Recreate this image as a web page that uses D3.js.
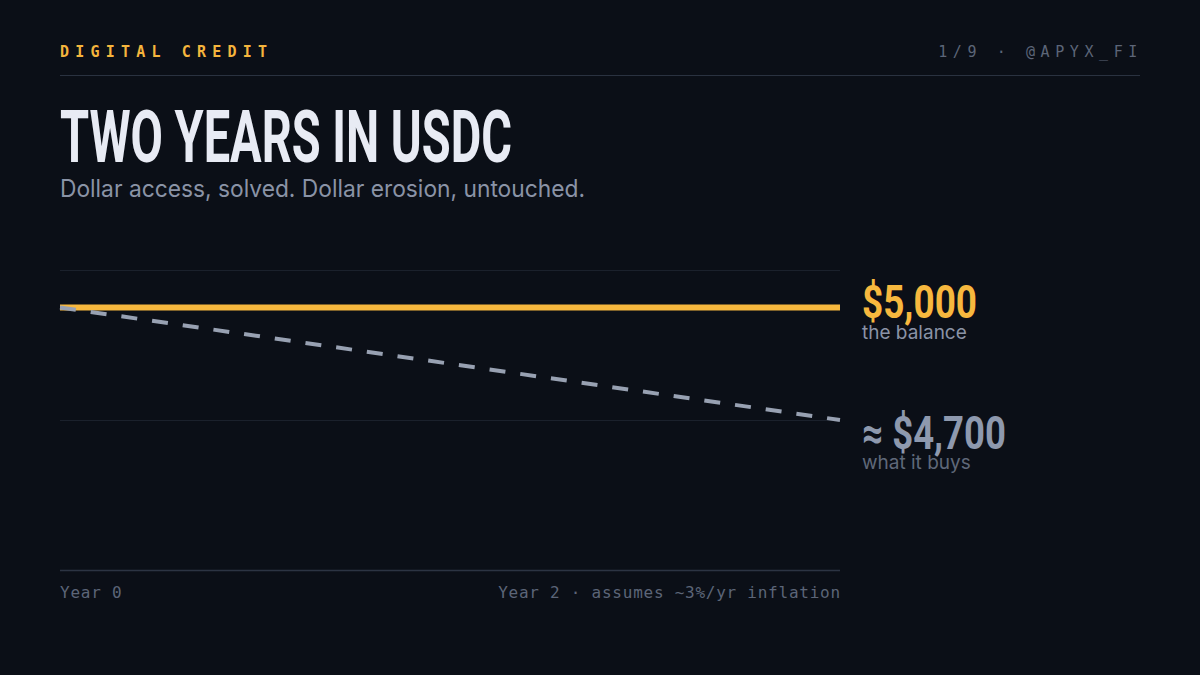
<!DOCTYPE html>
<html>
<head>
<meta charset="utf-8">
<script src="https://cdn.jsdelivr.net/npm/d3@7"></script>
<style>
  html, body { margin: 0; padding: 0; background: #0b0f17; }
  svg { display: block; }
</style>
</head>
<body>
<div id="chart"></div>
<script>
// values
const years = [0, 1, 2];
const balance = [5000, 5000, 5000];
const buyingPower = [5000, 4850, 4700];
const gridValues = [4300, 4700, 5100];
const xLabels = ["Year 0", "Year 2 · assumes ~3%/yr inflation"];
const endLabels = [
  { big: "$5,000", small: "the balance" },
  { big: "≈ $4,700", small: "what it buys" }
];

const width = 1200;
const height = 675;
const plot = { left: 60, right: 840, top: 270, bottom: 570 };

const svg = d3.select('#chart')
  .append('svg')
  .attr('width', width)
  .attr('height', height)
  .attr('viewBox', `0 0 ${width} ${height}`);

svg.append('rect').attr('width', width).attr('height', height).attr('fill', '#0b0f17');

// header
const mono = "'DejaVu Sans Mono', 'Liberation Mono', monospace";
svg.append('text')
  .attr('x', 60).attr('y', 57)
  .attr('fill', '#f5b53d')
  .attr('font-family', mono)
  .attr('font-weight', 700)
  .attr('font-size', 15)
  .attr('letter-spacing', 6.2)
  .text('DIGITAL CREDIT');

svg.append('text')
  .attr('x', 1143).attr('y', 57)
  .attr('text-anchor', 'end')
  .attr('fill', '#5c6577')
  .attr('font-family', mono)
  .attr('font-size', 15)
  .attr('letter-spacing', 5.6)
  .text('1/9 · @APYX_FI');

svg.append('line')
  .attr('x1', 60).attr('x2', 1140)
  .attr('y1', 75.5).attr('y2', 75.5)
  .attr('stroke', '#2a3240').attr('stroke-width', 1.2);

// title + subtitle
svg.append('text')
  .attr('x', 60).attr('y', 162)
  .attr('fill', '#e8ebf4')
  .attr('font-family', 'Roboto, sans-serif')
  .attr('font-weight', 700)
  .attr('font-size', 73)
  .attr('textLength', 452)
  .attr('lengthAdjust', 'spacingAndGlyphs')
  .text('TWO YEARS IN USDC');

svg.append('text')
  .attr('x', 60).attr('y', 197)
  .attr('fill', '#8a93a6')
  .attr('font-family', 'Inter, sans-serif')
  .attr('font-size', 24)
  .attr('textLength', 525)
  .attr('lengthAdjust', 'spacingAndGlyphs')
  .text('Dollar access, solved. Dollar erosion, untouched.');

// scales
const x = d3.scaleLinear().domain(d3.extent(years)).range([plot.left, plot.right]);
const y = d3.scaleLinear().domain(d3.extent(gridValues)).range([plot.bottom, plot.top]);

// gridlines
svg.append('g')
  .selectAll('line')
  .data(gridValues)
  .join('line')
  .attr('x1', plot.left).attr('x2', plot.right)
  .attr('y1', d => y(d) + 0.5).attr('y2', d => y(d) + 0.5)
  .attr('stroke', (d, i) => i === 0 ? '#2c3443' : '#1b212c')
  .attr('stroke-width', (d, i) => i === 0 ? 1.5 : 1);

// x labels
svg.append('g')
  .selectAll('text')
  .data(xLabels)
  .join('text')
  .attr('x', (d, i) => i === 0 ? x(years[0]) : x(years[years.length - 1]) + 0.8)
  .attr('y', 598)
  .attr('text-anchor', (d, i) => i === 0 ? 'start' : 'end')
  .attr('fill', '#5c6577')
  .attr('font-family', mono)
  .attr('font-size', 16)
  .attr('letter-spacing', 0.75)
  .text(d => d);

// lines
const line = d3.line().x(d => x(d[0])).y(d => y(d[1]));

svg.append('path')
  .datum(d3.zip(years, balance))
  .attr('d', line)
  .attr('fill', 'none')
  .attr('stroke', '#f7b83e')
  .attr('stroke-width', 6);

svg.append('path')
  .datum(d3.zip(years, buyingPower))
  .attr('d', line)
  .attr('fill', 'none')
  .attr('stroke', '#98a1b2')
  .attr('stroke-width', 4)
  .attr('stroke-dasharray', '16 15');

// end labels
const labelColors = [
  { big: '#f7b83e', small: '#8a93a6' },
  { big: '#8e99ae', small: '#5f6879' }
];
const lastVals = [balance[balance.length - 1], buyingPower[buyingPower.length - 1]];
const bigWidths = [115, 144];
const bigDy = [10.5, 29];
const smallDy = [31.5, 49];

lastVals.forEach((v, i) => {
  const yy = y(v);
  svg.append('text')
    .attr('x', 862).attr('y', yy + bigDy[i])
    .attr('fill', labelColors[i].big)
    .attr('font-family', 'Roboto, sans-serif')
    .attr('font-weight', 700)
    .attr('font-size', 46)
    .attr('textLength', bigWidths[i])
    .attr('lengthAdjust', 'spacingAndGlyphs')
    .text(endLabels[i].big);
  svg.append('text')
    .attr('x', 862).attr('y', yy + smallDy[i])
    .attr('fill', labelColors[i].small)
    .attr('font-family', 'Inter, sans-serif')
    .attr('font-size', 19)
    .text(endLabels[i].small);
});
</script>
</body>
</html>
